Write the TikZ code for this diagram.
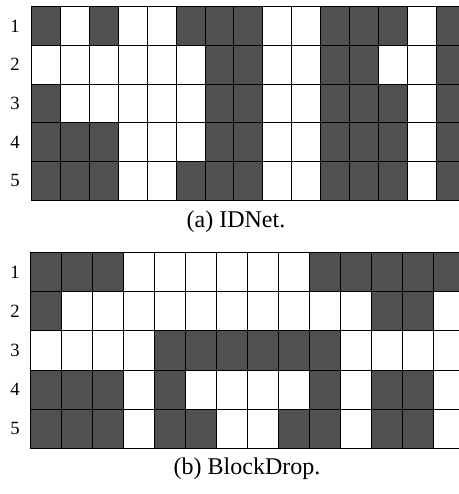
\documentclass[tikz,border=0pt]{standalone}
\usepackage{fontspec}
\setmainfont{Liberation Serif}
\usepackage{xcolor}
\definecolor{bit1}{RGB}{80,80,80}
\colorlet{bit0}{white}

\begin{document}
\begin{tikzpicture}[
  x=0.75pt, y=-0.75pt,
  cell/.style={draw=black, line width=0.7pt},
  rowlab/.style={font=\fontsize{14}{16}\selectfont, inner sep=0pt},
  capt/.style={font=\fontsize{18}{20}\selectfont, inner sep=0pt}
]
\useasboundingbox (0,0) rectangle (459,494);
\clip (0,0) rectangle (459,494);
% (a) IDNet: 5 rows, the last column is cut at the right margin
\begin{scope}
  \def\xa{31.7} \def\wa{28.88} \def\ya{6.7} \def\ha{38.66}
  \foreach \row [count=\r] in {
      {1,0,1,0,0,1,1,1,0,0,1,1,1,0,1},
      {0,0,0,0,0,0,1,1,0,0,1,1,0,0,1},
      {1,0,0,0,0,0,1,1,0,0,1,1,1,0,1},
      {1,1,1,0,0,0,1,1,0,0,1,1,1,0,1},
      {1,1,1,0,0,1,1,1,0,0,1,1,1,0,1}} {
    \node[rowlab] (la\r) at (15,{\ya+(\r-0.5)*\ha}) {\r};
    \foreach \b [count=\c] in \row
      \draw[cell, fill=bit\b] ({\xa+(\c-1)*\wa},{\ya+(\r-1)*\ha}) rectangle ++(\wa,\ha);
  }
  \node[capt] (capa) at (236,222) {(a) IDNet.};
\end{scope}
% (b) BlockDrop
\begin{scope}
  \def\xb{30.7} \def\wb{30.97} \def\yb{252.7} \def\hb{39.1}
  \foreach \row [count=\r] in {
      {1,1,1,0,0,0,0,0,0,1,1,1,1,1},
      {1,0,0,0,0,0,0,0,0,0,0,1,1,0},
      {0,0,0,0,1,1,1,1,1,1,0,0,0,0},
      {1,1,1,0,1,0,0,0,0,1,0,1,1,0},
      {1,1,1,0,1,1,0,0,1,1,0,1,1,0}} {
    \node[rowlab] (lb\r) at (15,{\yb+(\r-0.5)*\hb}) {\r};
    \foreach \b [count=\c] in \row
      \draw[cell, fill=bit\b] ({\xb+(\c-1)*\wb},{\yb+(\r-1)*\hb}) rectangle ++(\wb,\hb);
  }
  \node[capt] (capb) at (247,469) {(b) BlockDrop.};
\end{scope}
\end{tikzpicture}
\end{document}
